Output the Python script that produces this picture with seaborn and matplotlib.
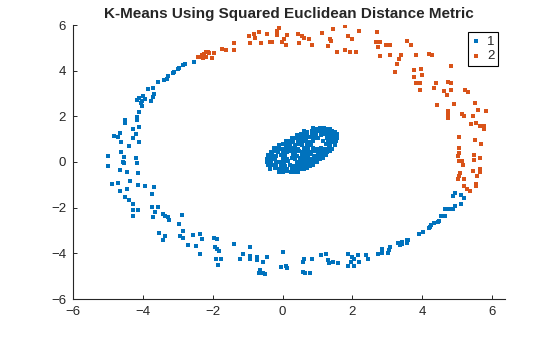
import matplotlib
matplotlib.use("Agg")
import matplotlib.pyplot as plt
import seaborn as sns
import pandas as pd

# Outer ring, cluster 1 (lower-left arc)
ring_c1 = [
    (-2.53, 4.37), (-2.79, 4.29), (-2.84, 4.25), (-2.96, 4.10), (-3.00, 4.06), (-3.11, 3.96),
    (-3.14, 3.89), (-3.27, 3.75), (-3.32, 3.65), (-3.38, 3.60), (-3.56, 3.49), (-3.70, 3.23),
    (-3.84, 3.18), (-3.67, 2.97), (-3.70, 2.83), (-3.77, 2.67), (-3.99, 2.90), (-3.94, 2.77),
    (-4.03, 2.69), (-4.10, 2.82), (-4.16, 2.72), (-4.05, 2.57), (-4.03, 2.45), (-4.10, 2.18),
    (-4.16, 1.96), (-4.16, 1.85), (-4.51, 1.83), (-4.51, 1.70), (-4.10, 1.52), (-4.27, 1.43),
    (-4.82, 1.15), (-4.70, 1.08), (-4.64, 1.26), (-4.29, 1.04), (-4.20, 1.24), (-4.62, 0.89),
    (-4.10, 0.86), (-4.39, 0.71), (-4.62, 0.42), (-4.99, 0.25), (-4.53, 0.21), (-4.56, 0.01),
    (-4.53, -0.03), (-4.19, 0.16), (-4.16, -0.03), (-4.99, -0.18),
    (-4.13, -0.49), (-4.64, -0.36), (-4.44, -0.45), (-4.87, -0.98), (-4.70, -0.93), (-4.64, -1.28),
    (-4.44, -1.20), (-4.36, -0.85), (-4.13, -1.02), (-3.93, -1.06), (-3.67, -1.11), (-3.73, -1.41),
    (-4.50, -1.55), (-4.39, -1.68), (-4.27, -1.85), (-4.27, -2.12), (-4.13, -2.12), (-4.27, -2.38),
    (-3.73, -1.98), (-3.56, -1.98), (-3.64, -2.20), (-3.70, -2.42), (-3.41, -2.29), (-3.36, -2.38),
    (-3.27, -2.42), (-3.24, -2.55), (-2.96, -2.73), (-2.87, -2.33), (-3.53, -3.12), (-3.36, -3.25),
    (-3.41, -3.43), (-2.84, -3.04), (-2.93, -3.25), (-2.84, -3.34), (-2.70, -3.65), (-2.55, -3.21),
    (-2.47, -3.69),
    (-2.36, -3.17), (-2.30, -3.39), (-2.36, -4.04), (-1.95, -3.34), (-1.87, -3.39), (-1.92, -3.74),
    (-1.87, -3.82), (-1.81, -3.91), (-1.90, -4.26), (-1.75, -4.26), (-1.84, -4.52), (-1.38, -3.60),
    (-1.12, -4.04), (-1.21, -4.26), (-0.92, -3.74), (-0.92, -4.13), (-0.92, -4.26), (-0.72, -4.17),
    (-0.72, -4.31), (-0.55, -4.39), (-0.44, -4.17), (-0.64, -4.74), (-0.66, -4.88), (-0.55, -4.88),
    (-0.49, -4.92), (0.02, -3.96), (-0.03, -4.61), (0.11, -4.57), (0.14, -4.66), (0.60, -4.39),
    (0.62, -4.26), (0.60, -4.83), (0.65, -4.88), (0.80, -4.88), (0.85, -4.26), (1.11, -4.09),
    (1.25, -4.04), (1.31, -4.31), (1.34, -4.44), (1.45, -4.39), (1.60, -4.44),
    (4.95, -1.37), (4.89, -1.50), (5.12, -1.46), (5.21, -1.59), (5.12, -1.85), (4.95, -1.94),
    (4.89, -2.07), (4.78, -2.07), (4.66, -2.07), (4.55, -2.38), (4.66, -2.38), (4.49, -2.60),
    (4.46, -2.64), (4.35, -2.69), (4.26, -2.77), (4.23, -2.86), (4.18, -2.90), (4.03, -3.08),
    (3.92, -3.17), (3.60, -3.43), (3.55, -3.43), (3.55, -3.56), (3.43, -3.52), (3.43, -3.60),
    (3.37, -3.65), (3.32, -3.56), (3.09, -3.74), (3.06, -3.87), (3.03, -4.00), (2.86, -3.82),
    (2.86, -4.00), (2.74, -4.04), (2.46, -4.26), (2.40, -4.09), (2.17, -4.09), (2.20, -4.39),
    (2.06, -4.26), (2.00, -4.17), (1.88, -4.04), (1.97, -4.39), (2.06, -4.57), (1.88, -4.57),
]

# Inner blob, cluster 1
core_c1 = [
    (0.86, 1.48), (0.97, 1.46), (1.08, 1.49), (1.18, 1.47), (1.27, 1.45), (1.35, 1.44),
    (0.62, 1.35), (0.71, 1.33), (0.83, 1.37), (0.92, 1.34), (1.05, 1.36), (1.14, 1.32),
    (1.25, 1.35), (1.33, 1.31), (1.42, 1.34), (1.50, 1.30),
    (0.41, 1.20), (0.52, 1.22), (0.63, 1.18), (0.70, 1.23), (0.84, 1.19), (0.95, 1.21),
    (1.10, 1.18), (1.21, 1.22), (1.30, 1.19), (1.40, 1.21), (1.48, 1.18), (1.55, 1.22),
    (0.26, 1.05), (0.36, 1.07), (0.47, 1.03), (0.58, 1.06), (0.68, 1.04), (0.80, 1.08),
    (0.90, 1.03), (1.02, 1.06), (1.26, 1.04), (1.37, 1.07), (1.46, 1.03), (1.56, 1.06),
    (0.10, 0.90), (0.20, 0.92), (0.31, 0.88), (0.43, 0.91), (0.55, 0.89), (0.66, 0.93),
    (0.77, 0.88), (0.88, 0.91), (1.15, 0.90), (1.30, 0.92), (1.42, 0.88), (1.54, 0.91),
    (-0.10, 0.75), (0.00, 0.77), (0.11, 0.73), (0.22, 0.76), (0.35, 0.74), (0.46, 0.78),
    (0.57, 0.73), (0.70, 0.76), (0.82, 0.74), (1.25, 0.77), (1.36, 0.73), (1.49, 0.76),
    (-0.24, 0.60), (-0.13, 0.62), (-0.02, 0.58), (0.10, 0.61), (0.20, 0.59), (0.33, 0.63),
    (0.44, 0.58), (0.62, 0.61), (0.74, 0.59), (0.86, 0.62), (0.98, 0.58), (1.10, 0.61),
    (1.21, 0.59), (1.32, 0.62), (1.42, 0.58),
    (-0.34, 0.45), (-0.23, 0.47), (-0.12, 0.43), (0.00, 0.46), (0.13, 0.44), (0.24, 0.48),
    (0.35, 0.43), (0.47, 0.46), (0.58, 0.44), (0.70, 0.47), (0.81, 0.43), (0.93, 0.46),
    (1.05, 0.44), (1.16, 0.47), (1.27, 0.43), (1.35, 0.46),
    (-0.42, 0.30), (-0.30, 0.32), (-0.18, 0.28), (-0.05, 0.31), (0.07, 0.29), (0.30, 0.32),
    (0.42, 0.28), (0.55, 0.31), (0.66, 0.29), (0.78, 0.33), (0.90, 0.28), (1.01, 0.31),
    (1.14, 0.29), (1.25, 0.32),
    (-0.45, 0.15), (-0.34, 0.17), (-0.22, 0.13), (0.02, 0.16), (0.14, 0.14), (0.26, 0.18),
    (0.37, 0.13), (0.50, 0.16), (0.61, 0.14), (0.73, 0.17), (0.85, 0.13), (0.96, 0.16),
    (1.07, 0.14), (1.15, 0.17),
    (-0.45, 0.00), (-0.33, 0.02), (-0.20, -0.02), (-0.08, 0.01), (0.05, -0.01), (0.17, 0.03),
    (0.40, -0.02), (0.52, 0.01), (0.64, -0.01), (0.75, 0.02), (0.88, -0.02), (1.00, 0.01),
    (-0.42, -0.15), (-0.30, -0.13), (-0.18, -0.17), (-0.05, -0.14), (0.08, -0.16), (0.20, -0.12),
    (0.32, -0.17), (0.44, -0.14), (0.56, -0.16), (0.67, -0.13), (0.78, -0.17), (0.88, -0.14),
    (-0.35, -0.30), (-0.22, -0.28), (-0.10, -0.32), (0.02, -0.29), (0.14, -0.31), (0.26, -0.27),
    (0.38, -0.32), (0.50, -0.29), (0.61, -0.31), (0.70, -0.28),
    (-0.10, -0.42), (0.02, -0.44), (0.14, -0.41), (0.25, -0.45), (0.36, -0.42), (0.45, -0.43),
]

# Outer ring, cluster 2 (upper-right arc)
ring_c2 = [
    (-2.41, 4.59), (-2.35, 4.61), (-2.30, 4.67), (-2.26, 4.72), (-2.20, 4.81), (-2.14, 4.81),
    (-2.10, 4.76), (-2.27, 4.56), (-2.18, 4.60), (-2.03, 4.57), (-1.95, 4.76),
    (-1.72, 4.94), (-1.61, 4.89), (-1.38, 5.20), (-1.38, 4.89), (-0.95, 5.51), (-0.81, 5.59),
    (-0.66, 5.68), (-0.78, 5.42), (-0.92, 5.20), (-0.61, 5.20), (-0.44, 5.59), (-0.35, 5.24),
    (-0.29, 5.24), (-0.09, 5.86), (-0.15, 5.72), (-0.15, 5.55), (0.14, 5.55), (0.05, 5.37),
    (-0.01, 5.24), (0.11, 5.11), (0.45, 5.59), (0.57, 5.51), (0.62, 5.42), (0.48, 5.20),
    (0.77, 5.37), (0.85, 5.11), (1.14, 5.64), (1.31, 5.07), (1.37, 5.37), (1.40, 5.29),
    (1.45, 5.81), (1.57, 4.81), (1.80, 5.94), (1.80, 4.89), (1.88, 5.51), (1.94, 4.81),
    (2.00, 5.37), (2.11, 4.81), (2.19, 5.72),
    (2.71, 5.68), (2.69, 5.24), (2.80, 5.24), (2.74, 5.02), (2.80, 4.63), (2.97, 5.11),
    (3.09, 5.11), (3.09, 4.67), (3.40, 4.67), (3.34, 4.50), (3.29, 4.28), (3.23, 3.93),
    (3.57, 5.29), (3.69, 5.11), (3.83, 4.67), (3.75, 4.02), (3.97, 4.06), (4.00, 3.80),
    (3.77, 3.71), (3.83, 3.45), (3.95, 3.45), (3.95, 3.14), (4.18, 4.72), (4.29, 4.67),
    (4.83, 4.19), (4.40, 3.45), (4.35, 3.23), (4.75, 3.49), (4.83, 3.45), (4.63, 3.10),
    (4.81, 3.14), (4.72, 2.92), (5.23, 3.14), (5.32, 3.05), (4.43, 2.48), (4.92, 2.53),
    (4.75, 2.22), (4.75, 2.09), (4.75, 1.91), (5.15, 2.09), (5.21, 2.00), (5.52, 2.57),
    (5.61, 2.26), (5.84, 2.22), (5.46, 2.00), (5.41, 1.65), (5.55, 1.70), (5.66, 1.56),
    (5.78, 1.56), (5.78, 1.43), (5.06, 1.08), (5.52, 0.95), (5.69, 0.78), (5.06, 0.60),
    (5.06, 0.38), (5.03, 0.25), (5.49, 0.29), (5.66, 0.16), (5.06, 0.03), (5.15, 0.03),
    (5.18, -0.14), (5.49, 0.07), (5.66, -0.32),
    (5.09, -0.49), (5.06, -0.63), (5.03, -0.76), (5.21, -0.76), (5.46, -0.41), (5.66, -0.45),
    (5.58, -0.63), (5.21, -1.06), (5.55, -0.98), (5.55, -1.06), (5.29, -1.20), (5.38, -1.28),
]

cluster_labels = ["1", "2"]
cluster_colors = ["#0072BD", "#D95319"]
title_text = "K-Means Using Squared Euclidean Distance Metric"
ticks = [-6, -4, -2, 0, 2, 4, 6]

c1 = ring_c1 + core_c1
df = pd.DataFrame(
    [(x, y, cluster_labels[0]) for x, y in c1] + [(x, y, cluster_labels[1]) for x, y in ring_c2],
    columns=["x", "y", "cluster"],
)

sns.set_theme(style="ticks")
plt.rcParams["font.family"] = ["Liberation Sans", "DejaVu Sans"]
plt.rcParams["xtick.direction"] = "in"
plt.rcParams["ytick.direction"] = "in"

fig = plt.figure(figsize=(5.6, 3.37), dpi=100)
ax = fig.add_axes([73 / 560, 1 - 299 / 337, (505 - 73) / 560, (299 - 25) / 337])

for lab, col in zip(cluster_labels, cluster_colors):
    sub = df[df["cluster"] == lab]
    sns.scatterplot(data=sub, x="x", y="y", color=col, marker="s", s=7,
                    linewidth=0, ax=ax, label=lab)

ax.set_xlim(-6, 6.37)
ax.set_ylim(-6, 6)
ax.set_xticks(ticks)
ax.set_yticks(ticks)
ax.set_xlabel("")
ax.set_ylabel("")
sns.despine(ax=ax)
for side in ("left", "bottom"):
    ax.spines[side].set_color("#262626")
    ax.spines[side].set_linewidth(0.8)
ax.tick_params(axis="both", length=3, width=0.7, colors="#262626", labelsize=9.5, pad=5)
ax.set_title(title_text, fontsize=11, fontweight="bold", color="#262626", pad=5)

leg = ax.legend(loc="upper right", fontsize=9.5, frameon=True, fancybox=False,
                edgecolor="black", framealpha=1, handlelength=0.6, handletextpad=0.5,
                borderpad=0.3, labelspacing=0.15, borderaxespad=0.5, markerscale=1.3)
leg.get_frame().set_linewidth(0.8)
for h, col in zip(leg.legend_handles, cluster_colors):
    h.set_color(col)

fig.savefig("out.png", dpi=100)
